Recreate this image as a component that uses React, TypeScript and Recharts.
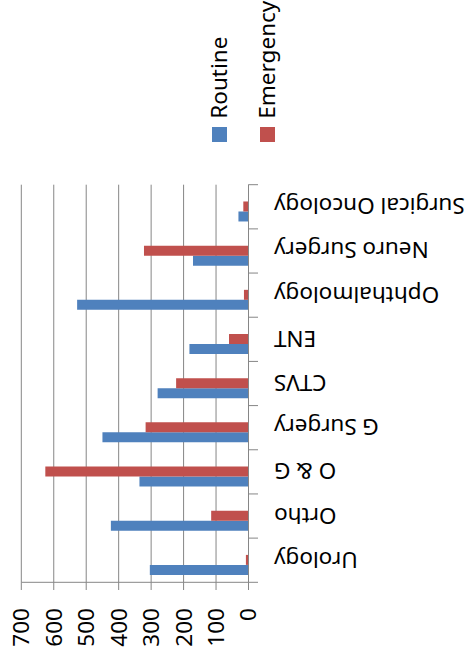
import React from 'react';
import { BarChart, Bar, XAxis, YAxis, CartesianGrid, Legend } from 'recharts';

const categories = [
  'Urology',
  'Ortho',
  'O & G',
  'G Surgery',
  'CTVS',
  'ENT',
  'Ophthalmology',
  'Neuro Surgery',
  'Surgical Oncology',
];
const routine = [304, 424, 336, 450, 280, 182, 528, 171, 31];
const emergency = [8, 115, 626, 317, 223, 60, 14, 322, 16];
const valueTicks = [0, 100, 200, 300, 400, 500, 600, 700];
const seriesNames = ['Routine', 'Emergency'];

const data = categories.map((c, i) => ({
  category: c,
  routine: routine[i],
  emergency: emergency[i],
}));

const FONT = '"Noto Sans", "Open Sans", sans-serif';
const FS = 22.5;
const GRID = '#868686';
const BLUE = '#4F81BD';
const RED = '#C0504D';
const COLORS = [BLUE, RED];

// chart is drawn as a column chart, then the whole frame is turned a quarter turn
const CW = 666;
const CH = 465;
const PLOT_LEFT = 83.7;
const PLOT_RIGHT = 481.3;
const PLOT_TOP = 21.3;
const PLOT_BOTTOM = 248.5;
const BAND_HALF = (PLOT_RIGHT - PLOT_LEFT) / categories.length / 2;

function CategoryTick(props: any) {
  const { x, y, payload, index } = props;
  const ty = y + 25.5;
  const last = index === categories.length - 1;
  return (
    <g>
      <line x1={x - BAND_HALF} x2={x - BAND_HALF} y1={y} y2={y + 9.5} stroke={GRID} strokeWidth={1} />
      {last && (
        <line x1={x + BAND_HALF} x2={x + BAND_HALF} y1={y} y2={y + 9.5} stroke={GRID} strokeWidth={1} />
      )}
      <text
        x={x}
        y={ty}
        transform={`rotate(-90 ${x} ${ty})`}
        textAnchor="end"
        dominantBaseline="central"
        fontFamily={FONT}
        fontSize={FS}
        fill="#000"
      >
        {payload.value}
      </text>
    </g>
  );
}

const LegendContent = () => (
  <div style={{ fontFamily: FONT, fontSize: FS, color: '#000' }}>
    {seriesNames.map((n, i) => (
      <div key={n} style={{ display: 'flex', alignItems: 'center', height: 48 }}>
        <div style={{ width: 15, height: 15, background: COLORS[i], marginRight: 8 }} />
        <span style={{ lineHeight: 1, whiteSpace: 'nowrap' }}>{n}</span>
      </div>
    ))}
  </div>
);

export default function App() {
  return (
    <div
      style={{
        position: 'absolute',
        left: 0,
        top: 0,
        width: 465,
        height: 666,
        overflow: 'hidden',
        background: '#fff',
      }}
    >
      <div
        style={{
          position: 'absolute',
          left: 0,
          top: 0,
          width: CW,
          height: CH,
          transformOrigin: '0 0',
          transform: `translateY(${CW}px) rotate(-90deg)`,
        }}
      >
        <BarChart
          width={CW}
          height={CH}
          data={data}
          margin={{ top: PLOT_TOP, right: CW - PLOT_RIGHT, bottom: 0, left: 0 }}
          barCategoryGap={7.4}
          barGap={0}
        >
          <CartesianGrid vertical={false} stroke={GRID} />
          <XAxis
            dataKey="category"
            type="category"
            height={CH - PLOT_BOTTOM}
            interval={0}
            tickLine={false}
            tickSize={0}
            tickMargin={0}
            axisLine={{ stroke: GRID }}
            tick={(p: any) => <CategoryTick {...p} />}
          />
          <YAxis
            type="number"
            domain={[0, 700]}
            ticks={valueTicks}
            interval={0}
            width={PLOT_LEFT}
            tickSize={7.7}
            tickMargin={18}
            axisLine={{ stroke: GRID }}
            tickLine={{ stroke: GRID }}
            tick={{ fill: '#000', fontSize: FS, fontFamily: FONT }}
          />
          <Legend
            layout="vertical"
            align="center"
            verticalAlign="middle"
            wrapperStyle={{ left: 524.3, top: 195.5, width: 'auto' }}
            content={() => <LegendContent />}
          />
          <Bar dataKey="routine" name="Routine" fill={BLUE} isAnimationActive={false} />
          <Bar dataKey="emergency" name="Emergency" fill={RED} isAnimationActive={false} />
          <Bar dataKey="spacer" fill="none" legendType="none" isAnimationActive={false} />
        </BarChart>
      </div>
    </div>
  );
}
